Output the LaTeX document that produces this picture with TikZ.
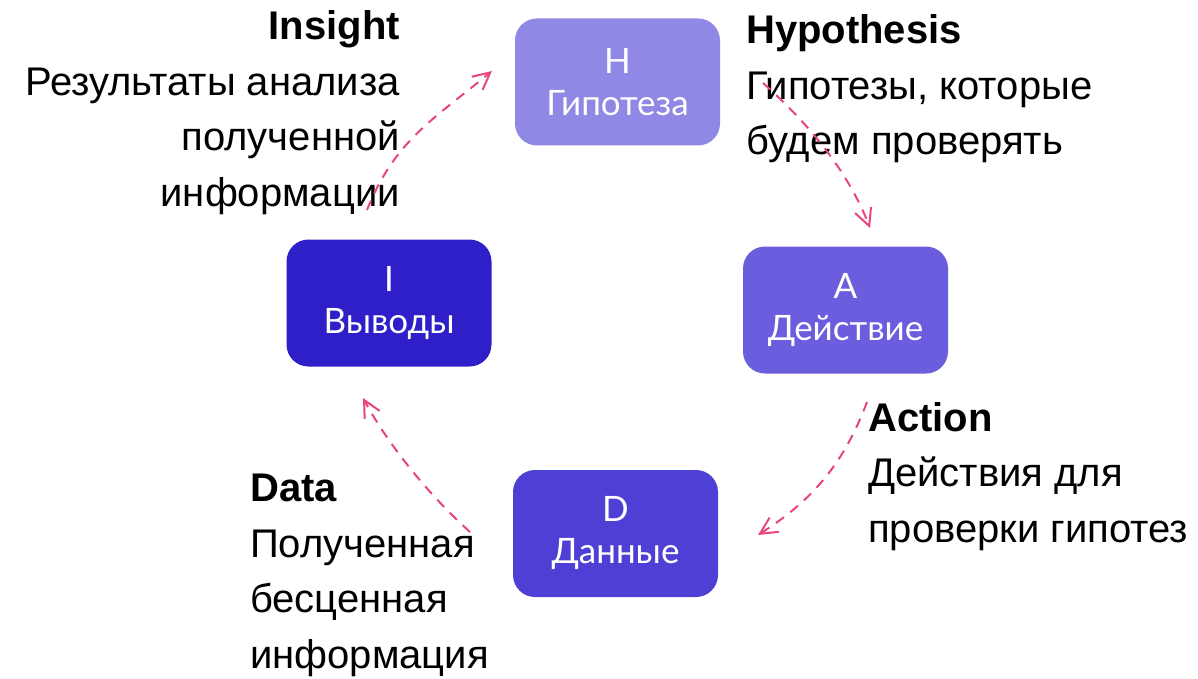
\documentclass[tikz,border=0pt]{standalone}
\usepackage{fontspec}
\setmainfont{Liberation Sans}
\newfontfamily\boxfont{Lato}
\usetikzlibrary{arrows.meta}
\definecolor{cH}{HTML}{8F88E5}
\definecolor{cA}{HTML}{6B5EDE}
\definecolor{cI}{HTML}{2F1FC8}
\definecolor{cD}{HTML}{4E40D4}
\definecolor{pinkline}{HTML}{E8457A}
\tikzset{
  stagebox/.style={rounded corners=22pt, minimum width=205pt, minimum height=127pt,
    text=white, align=center, inner sep=0pt,
    font=\boxfont\fontsize{35}{42}\selectfont},
  desc/.style={inner sep=0pt, font=\fontsize{40}{55.5}\selectfont},
  cyc/.style={draw=pinkline, line width=2pt, dash pattern=on 10pt off 8pt,
    -{Straight Barb[length=17pt,width=17pt,line width=2pt]}}
}
\begin{document}
\begin{tikzpicture}[x=1pt,y=-1pt]
\useasboundingbox (0,0) rectangle (1198,679);
\node[stagebox, fill=cH] (H) at (617.5,82) {H\\Гипотеза};
\node[stagebox, fill=cA] (A) at (845.5,310) {A\\Действие};
\node[stagebox, fill=cI] (I) at (389,303) {I\\Выводы};
\node[stagebox, fill=cD] (D) at (615.5,533.5) {D\\Данные};

\node[desc, anchor=base east, align=right] (tI) at (400,206)
  {\textbf{Insight}\\Результаты анализа\\полученной\\информации};
\node[desc, anchor=base west, align=left] (tH) at (746,155)
  {\textbf{Hypothesis}\\Гипотезы, которые\\будем проверять};
\node[desc, anchor=base west, align=left] (tA) at (868,542)
  {\textbf{Action}\\Действия для\\проверки гипотез};
\node[desc, anchor=base west, align=left] (tD) at (250,668)
  {\textbf{Data}\\Полученная\\бесценная\\информация};

\coordinate (i1) at (367,210);
\coordinate (h1) at (492,71);
\coordinate (h2) at (763,83);
\coordinate (a1) at (870,228);
\coordinate (a2) at (867,402);
\coordinate (d1) at (758,535);
\coordinate (d2) at (470,532);
\coordinate (i2) at (363,398);

\draw[cyc] (i1) .. controls (395,140) and (434,119) .. (h1);
\draw[cyc] (h2) .. controls (808,123) and (848,171) .. (a1);
\draw[cyc] (a2) .. controls (844,463) and (813,500) .. (d1);
\draw[cyc] (d2) .. controls (429,495) and (389,446) .. (i2);
\end{tikzpicture}
\end{document}
